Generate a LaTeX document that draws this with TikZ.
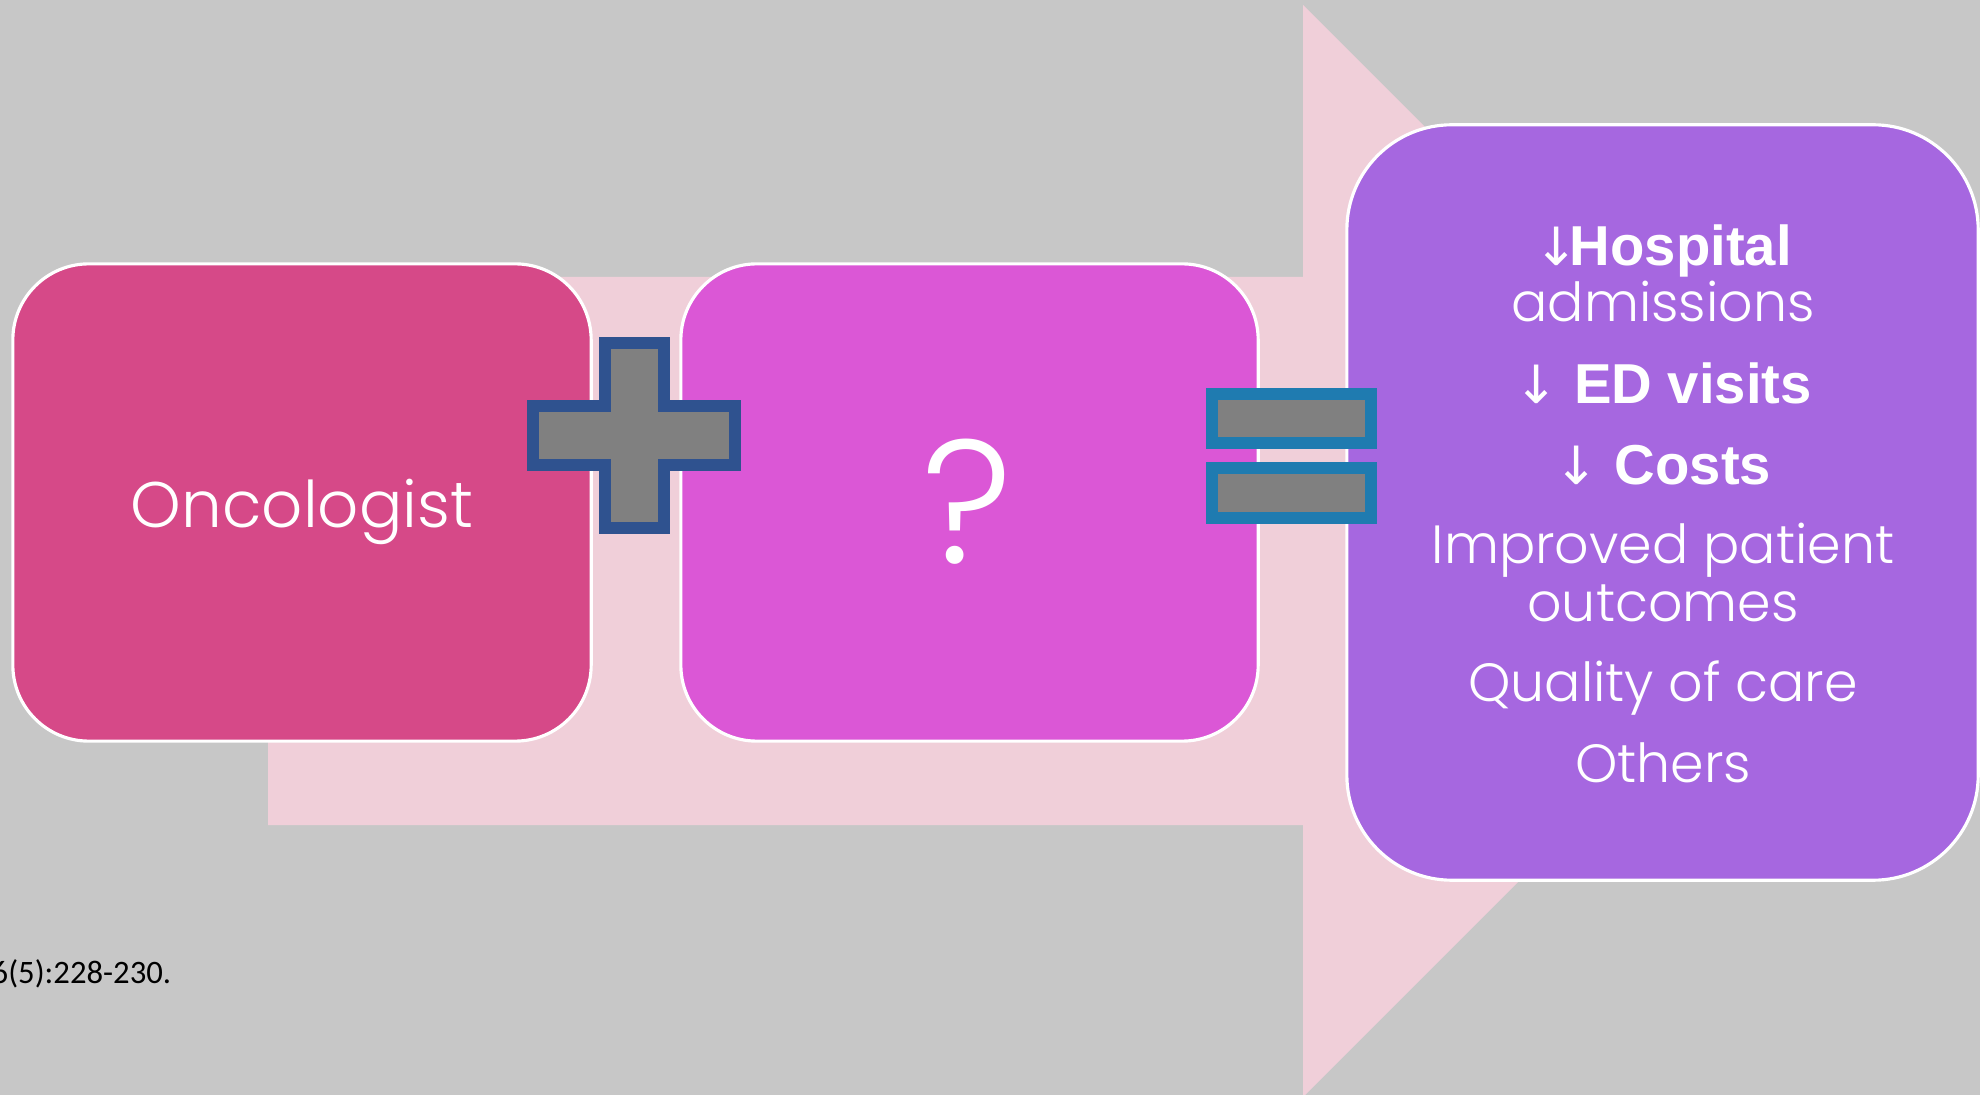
\documentclass[tikz,border=0pt]{standalone}
\usepackage{fontspec}
\setmainfont{Liberation Sans}
\newfontfamily\thinfont{Poppins Light}
\newfontfamily\boldfont{Liberation Sans}[UprightFont=* Bold]
\newfontfamily\arrowfont{DejaVu Sans}
\newfontfamily\citefont{Carlito}
\definecolor{bgray}{RGB}{199,199,199}
\definecolor{arrowpink}{RGB}{240,207,217}
\definecolor{boxrose}{RGB}{214,73,136}
\definecolor{boxmagenta}{RGB}{219,87,214}
\definecolor{boxviolet}{RGB}{166,103,224}
\definecolor{plusnavy}{RGB}{47,82,143}
\definecolor{eqblue}{RGB}{31,123,176}
\definecolor{symgray}{RGB}{128,128,128}
\begin{document}
\begin{tikzpicture}[x=0.01cm,y=-0.01cm,
  card/.style={draw=white, line width=0.9pt, rectangle, inner sep=0pt},
  sym/.style={fill=symgray, line width=0.12cm, miter limit=10},
  light/.style={text=white, font=\thinfont, inner sep=0pt, anchor=base},
  strong/.style={text=white, inner sep=0pt, anchor=base},
  listlight/.style={light, font=\thinfont\fontsize{15.3}{18}\selectfont},
  listbold/.style={strong, font=\fontsize{16}{19}\selectfont}]
  \useasboundingbox (0,0) rectangle (1980,1095);
  \fill[bgray] (0,0) rectangle (1980,1095);
  \clip (0,0) rectangle (1980,1095);

  % background block arrow
  \fill[arrowpink] (268,277) -- (1303,277) -- (1303,5) -- (1849,551)
    -- (1303,1097) -- (1303,825) -- (268,825) -- cycle;

  % the three cards
  \node[card, fill=boxrose, rounded corners=0.76cm,
        minimum width=5.78cm, minimum height=4.77cm] (onc) at (302,502.5) {};
  \node[light, font=\thinfont\fontsize{18.3}{22}\selectfont]
        (onctext) at (302,528) {Oncologist};

  \node[card, fill=boxmagenta, rounded corners=0.76cm,
        minimum width=5.77cm, minimum height=4.77cm] (mystery) at (969.5,502.5) {};
  \node[light, font=\thinfont\fontsize{50}{54}\selectfont]
        (qmark) at (967,564) {?};

  \node[card, fill=boxviolet, rounded corners=1.05cm,
        minimum width=6.31cm, minimum height=7.55cm] (result) at (1662.5,502.5) {};

  % plus sign
  \draw[sym, draw=plusnavy] (605,343) -- (664,343) -- (664,406) -- (735,406)
    -- (735,465) -- (664,465) -- (664,528) -- (605,528) -- (605,465)
    -- (533,465) -- (533,406) -- (605,406) -- cycle;

  % equals sign
  \draw[sym, draw=eqblue] (1212,394) rectangle (1371,443);
  \draw[sym, draw=eqblue] (1212,468) rectangle (1371,518);

  % outcomes listed in the result card
  \node[listbold] (hosp) at (1663,266)
    {{\arrowfont\fontsize{15}{18}\selectfont↓}\kern-2.5pt{\boldfont Hospital}};
  \node[listlight] (adm) at (1663,322) {admissions};
  \node[listbold] (ed) at (1663,404)
    {{\arrowfont\fontsize{15}{18}\selectfont↓} {\boldfont ED visits}};
  \node[listbold] (costs) at (1663,485)
    {{\arrowfont\fontsize{15}{18}\selectfont↓} {\boldfont Costs}};
  \node[listlight] (impr) at (1663,564) {Improved patient};
  \node[listlight] (outc) at (1663,622) {outcomes};
  \node[listlight] (qual) at (1663,702) {Quality of care};
  \node[listlight] (oth) at (1663,782) {Others};

  % reference line at the lower left
  \node[inner sep=0pt, anchor=base west, font=\citefont\fontsize{9.3}{11}\selectfont]
    (cite) at (-9,983) {6(5):228-230.};
\end{tikzpicture}
\end{document}
